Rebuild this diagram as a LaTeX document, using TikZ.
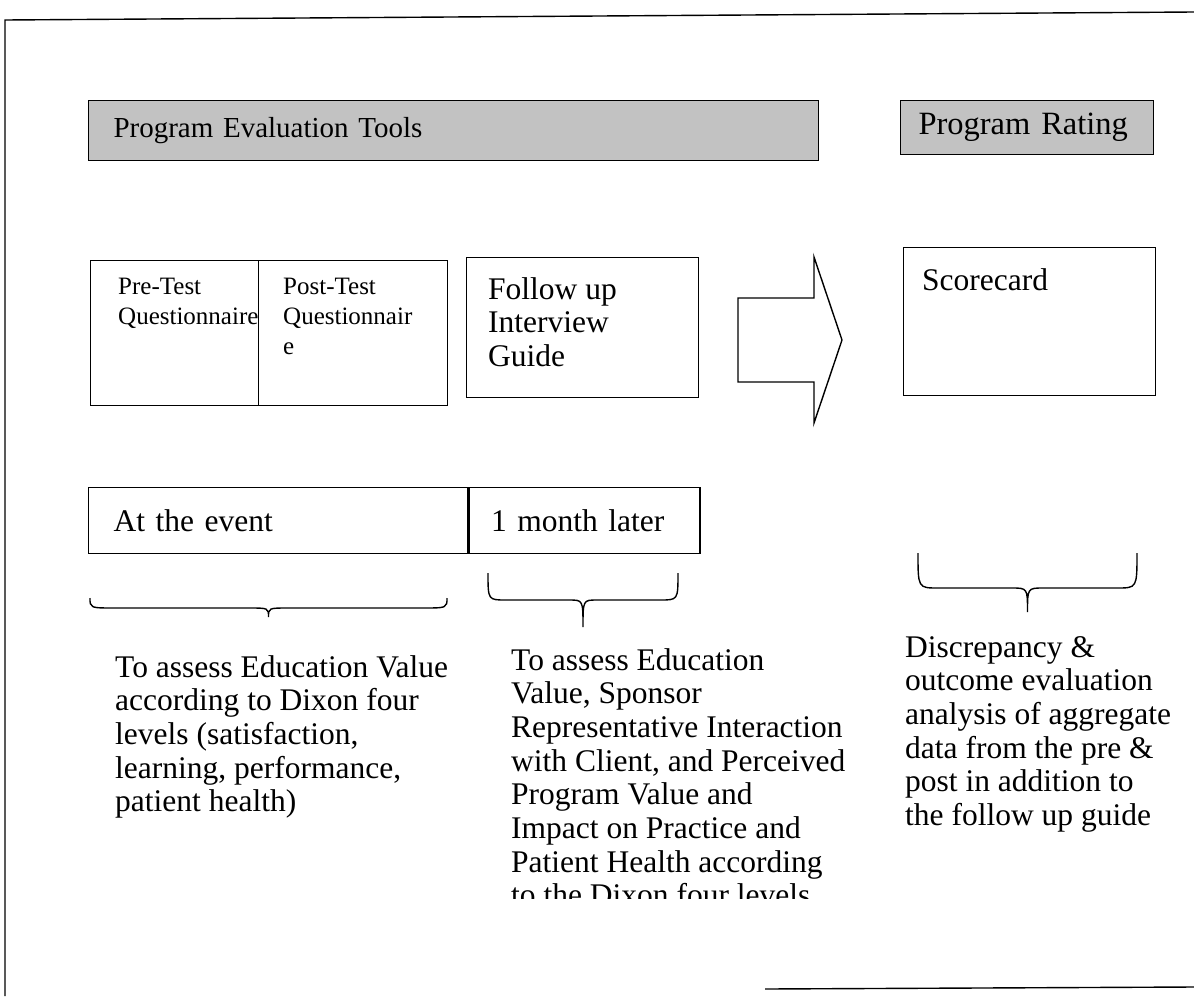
\documentclass[tikz,border=0pt]{standalone}
\usepackage{fontspec}
\setmainfont{Liberation Serif}
\usetikzlibrary{positioning}
\def\wbrace(#1:#2:#3:#4:#5:#6:#7){\draw[brace line] (#1,#3) .. controls (#1,#4) .. ({#1+#6},#4) -- ({(#1+#2)/2-#7},#4) .. controls ({(#1+#2)/2},#4) .. ({(#1+#2)/2},#5) .. controls ({(#1+#2)/2},#4) .. ({(#1+#2)/2+#7},#4) -- ({#2-#6},#4) .. controls (#2,#4) .. (#2,#3);}
\tikzset{
	headbox/.style={draw, line width=1pt, fill=black!24, anchor=north west, inner ysep=0pt, align=left},
	toolbox/.style={draw, line width=1.4pt, anchor=north west, inner sep=0pt},
	timebox/.style={draw, line width=1.4pt, anchor=north west, inner ysep=0pt, align=left, font=\bigtext},
	brace line/.style={line width=1.4pt},
	boxtext/.style={inner sep=0pt, align=left, font=\bigtext},
	smalltext/.style={inner sep=0pt, align=left, font=\fontsize{25}{30}\selectfont},
	desc/.style={anchor=north west, inner sep=0pt, align=left, font=\bigtext}
}
\newcommand{\bigtext}{\fontsize{31.5}{33.7}\selectfont}
\begin{document}
\begin{tikzpicture}[x=1pt, y=-1pt]
				\useasboundingbox (0,0) rectangle (1194,996);
				\draw[line width=1.4pt] (5,996) -- (5,20) -- (1194,12);
				\draw[line width=1.4pt] (765,989) -- (1194,987);
				
				\node[headbox, minimum height=60pt, inner xsep=25pt, text width=680pt, font=\fontsize{29}{33}\selectfont] (evaltools) at (88,100) {Program Evaluation Tools};
				\node[headbox, minimum height=54pt, inner xsep=18pt, text width=217pt, font=\fontsize{32.5}{36}\selectfont] (rating) at (900,100) {Program Rating};
				
				\node[toolbox, minimum width=168pt, minimum height=145pt] (pretest) at (90,260) {};
				\node[toolbox, minimum width=189pt, minimum height=145pt] (posttest) at (258,260) {};
				\node[toolbox, minimum width=232pt, minimum height=140pt] (followup) at (466,257) {};
				\node[toolbox, minimum width=252pt, minimum height=148pt] (scorecard) at (903,247) {};
				
				\node[smalltext, below right=18pt and 28pt of pretest.north west, anchor=north west] (pretext) {Pre-Test\\Questionnaire};
				\node[smalltext, below right=18pt and 25pt of posttest.north west, anchor=north west] (posttext) {Post-Test\\Questionnair\\e};
				\node[boxtext, below right=20pt and 22pt of followup.north west, anchor=north west] (followtext) {Follow up\\Interview\\Guide};
				\node[boxtext, below right=21pt and 19pt of scorecard.north west, anchor=north west] (scoretext) {Scorecard};
				
				\draw[line width=1.4pt] (738,298) -- (814,298) -- (814,257) -- (842,340) -- (814,423) -- (814,382) -- (738,382) -- cycle;
				
				\node[timebox, minimum height=66pt, inner xsep=25pt, text width=329pt] (event) at (88,487) {At the event};
				\node[timebox, minimum height=66pt, inner xsep=22pt, text width=187pt] (later) at (event.north east) {1 month later};
				
				\wbrace(90:447:598:608:617:25:20)
				\wbrace(488:678:573:600:627:18:14)
				\wbrace(918:1137:553:588:612:20:16)
				
				\node[desc] (dixon) at (115,655) {To assess Education Value\\according to Dixon four\\levels (satisfaction,\\learning, performance,\\patient health)};
				\begin{scope}
					\clip (480,600) rectangle (900,898);
					\node[desc] (sponsor) at (511,648) {To assess Education\\Value, Sponsor\\Representative Interaction\\with Client, and Perceived\\Program Value and\\Impact on Practice and\\Patient Health according\\to the Dixon four levels};
				\end{scope}
				\node[desc] (discrepancy) at (905,636) {Discrepancy \&\\outcome evaluation\\analysis of aggregate\\data from the pre \&\\post in addition to\\the follow up guide};
			\end{tikzpicture}
\end{document}
